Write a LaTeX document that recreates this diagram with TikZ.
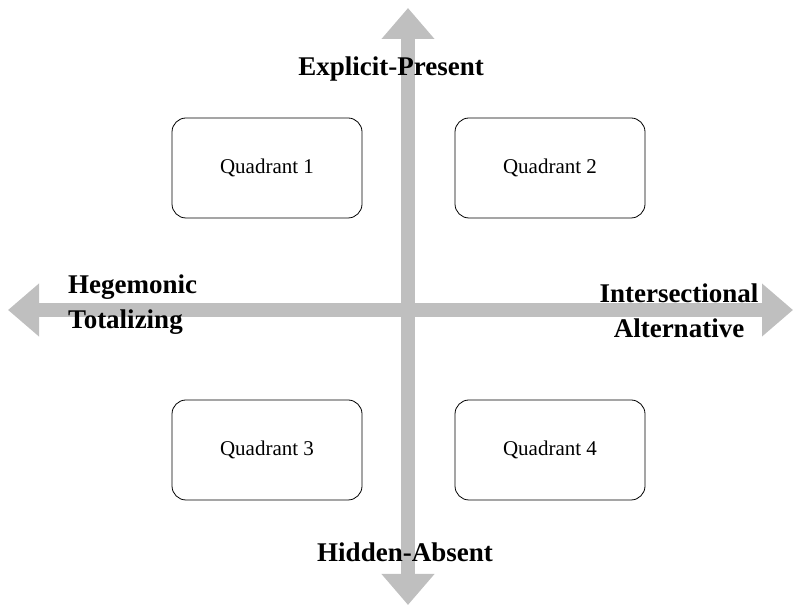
\documentclass[tikz,border=0pt]{standalone}
\usepackage{fontspec}
\setmainfont{Liberation Serif}
\usetikzlibrary{arrows.meta}

\tikzset{
  axis/.style={line width=14pt, gray!50, -{Triangle[width=51pt,length=31pt]}},
  quad/.style={draw, thick, rounded corners=14pt, minimum width=190pt, minimum height=100pt, font=\fontsize{21}{25}\selectfont},
  axislabel/.style={font=\fontsize{27}{35}\selectfont\bfseries, inner sep=0pt}
}

\begin{document}
\begin{tikzpicture}[x=1pt, y=1pt]
  \useasboundingbox (0,0) rectangle (798,607);

  % Axes
  \coordinate (O) at (408,297);
  \coordinate (top) at (408,599);
  \coordinate (bottom) at (408,2);
  \coordinate (left) at (8,297);
  \coordinate (right) at (793,297);
  \draw[axis] (O) -- (top);
  \draw[axis] (O) -- (bottom);
  \draw[axis] (O) -- (left);
  \draw[axis] (O) -- (right);

  % Quadrants
  \node[quad] (q1) at (267,439) {Quadrant 1};
  \node[quad] (q2) at (550,439) {Quadrant 2};
  \node[quad] (q3) at (267,157) {Quadrant 3};
  \node[quad] (q4) at (550,157) {Quadrant 4};

  % Labels
  \node[axislabel] (present) at (391,538) {Explicit-Present};
  \node[axislabel] (absent) at (405,55) {Hidden-Absent};
  \node[axislabel, anchor=west, align=left] (hegemonic) at (68,302) {Hegemonic\\Totalizing};
  \node[axislabel, align=center] (alternative) at (679,296) {Intersectional\\Alternative};
\end{tikzpicture}
\end{document}
